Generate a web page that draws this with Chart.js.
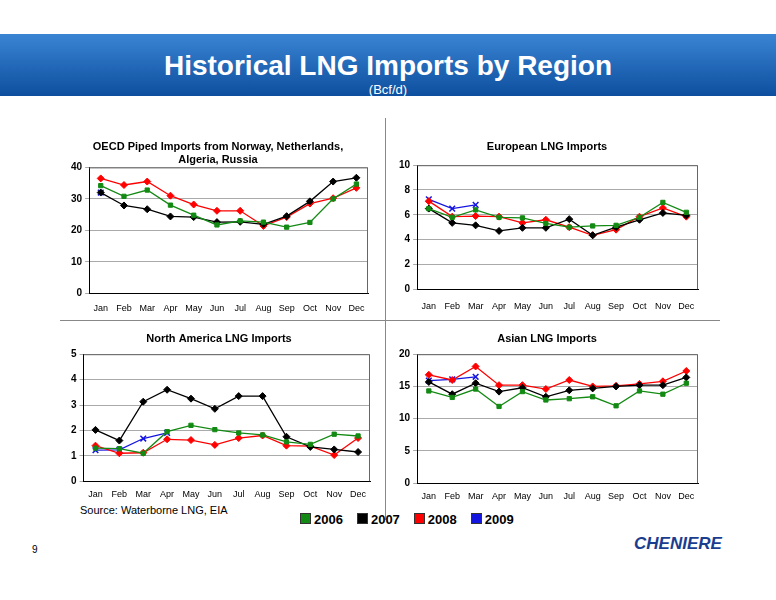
<!DOCTYPE html>
<html><head><meta charset="utf-8">
<script src="https://cdn.jsdelivr.net/npm/chart.js@4"></script>
<style>
body{margin:0;width:776px;height:600px;background:#fff;font-family:"Liberation Sans",Arial,sans-serif;position:relative;overflow:hidden}
.banner{position:absolute;left:0;top:34px;width:776px;height:62px;background:linear-gradient(#3a84d4,#0d4f9e);}
.banner h1{margin:0;position:absolute;top:16px;width:776px;text-align:center;color:#fff;font-size:28px;font-weight:bold}
.banner .sub{position:absolute;top:48px;width:776px;text-align:center;color:#fff;font-size:13px}
canvas{position:absolute}
.vl{position:absolute;left:385px;top:118px;width:1px;height:402px;background:#888}
.hl{position:absolute;left:60px;top:320px;width:660px;height:1px;background:#888}
.src{position:absolute;left:80px;top:504px;font-size:11px}
.leg{position:absolute;left:300px;top:512px;font-size:13px;font-weight:bold;display:flex;gap:14px}
.leg span i{display:inline-block;width:9px;height:9px;margin-right:3px;border:1px solid #333}
.pg{position:absolute;left:32px;top:544px;font-size:10px}
.logo{position:absolute;left:634px;top:534px;font-size:17px;font-weight:bold;font-style:italic;color:#1a3d8f}
</style></head><body>
<div class="banner"><h1>Historical LNG Imports by Region</h1><div class="sub">(Bcf/d)</div></div>
<div class="vl"></div><div class="hl"></div>
<canvas id="c1" width="320" height="184" style="left:62px;top:132px"></canvas>
<canvas id="c2" width="320" height="184" style="left:390px;top:132px"></canvas>
<canvas id="c3" width="320" height="176" style="left:62px;top:324px"></canvas>
<canvas id="c4" width="320" height="178" style="left:390px;top:324px"></canvas>
<div class="src">Source: Waterborne LNG, EIA</div>
<div class="leg"><span><i style="background:#138a13"></i>2006</span><span><i style="background:#000"></i>2007</span><span><i style="background:#f00"></i>2008</span><span><i style="background:#1515e0"></i>2009</span></div>
<div class="pg">9</div>
<div class="logo">CHENIERE</div>
<script>
const months=["Jan","Feb","Mar","Apr","May","Jun","Jul","Aug","Sep","Oct","Nov","Dec"];
const oecd2006=[34.2,30.8,32.8,28,24.8,21.7,23,22.6,21,22.5,30,34.7];
const oecd2007=[32,27.9,26.7,24.4,24.2,22.6,22.7,21.9,24.5,29.2,35.5,36.7];
const oecd2008=[36.5,34.4,35.5,31,28.2,26.2,26.2,21.4,24.2,28.5,30.2,33.5];
const oecd2009=[32];
const eu2006=[6.5,5.8,6.4,5.8,5.75,5.3,5.0,5.1,5.15,5.8,7.0,6.2];
const eu2007=[6.5,5.35,5.15,4.7,4.95,4.95,5.65,4.35,5.0,5.6,6.15,5.95];
const eu2008=[7.1,5.85,5.9,5.85,5.35,5.6,5.0,4.35,4.8,5.85,6.55,5.85];
const eu2009=[7.25,6.5,6.8];
const na2006=[1.3,1.28,1.1,1.95,2.2,2.03,1.9,1.82,1.55,1.45,1.85,1.78];
const na2007=[2.02,1.6,3.13,3.6,3.25,2.85,3.35,3.35,1.75,1.35,1.25,1.15];
const na2008=[1.4,1.1,1.12,1.65,1.62,1.43,1.7,1.8,1.4,1.38,1.03,1.7];
const na2009=[1.22,1.23,1.68,1.9];
const as2006=[14.3,13.3,14.6,11.9,14.2,12.9,13.1,13.4,12.0,14.3,13.8,15.5];
const as2007=[15.7,13.8,15.5,14.2,14.8,13.4,14.4,14.7,15.0,15.2,15.2,16.4];
const as2008=[16.8,16.0,18.1,15.2,15.2,14.6,16.0,15.0,15.1,15.4,15.8,17.4];
const as2009=[15.9,16.1,16.5];
const F="'Liberation Sans',Arial,sans-serif";
function ds(d,c,s,r){return {data:d,borderColor:c,backgroundColor:c,pointStyle:s,pointRadius:r,borderWidth:1.3,pointBorderWidth:s==='crossRot'?1.5:1};}
const frame={id:'frame',afterDraw(ch){const a=ch.chartArea,x=ch.ctx;x.save();x.strokeStyle='#666';x.lineWidth=1;x.beginPath();x.moveTo(a.left,a.top+0.5);x.lineTo(a.right-0.5,a.top+0.5);x.lineTo(a.right-0.5,a.bottom);x.stroke();x.restore();}};
function mk(id,title,sets,max,step,pad,tpb,xp){
 new Chart(document.getElementById(id),{type:'line',plugins:[frame],
 data:{labels:months,datasets:[ds(sets[0],'#138a13','rect',3),ds(sets[1],'#000','rectRot',3.5),ds(sets[2],'#f00','rectRot',3.5),ds(sets[3],'#1515e0','crossRot',4)]},
 options:{responsive:false,animation:false,layout:{padding:pad},
 plugins:{legend:{display:false},tooltip:{enabled:false},title:{display:true,text:title,color:'#000',font:{family:F,size:11,weight:'bold'},padding:{top:0,bottom:tpb}}},
 scales:{x:{offset:true,grid:{display:false,drawTicks:true},border:{color:'#000'},ticks:{color:'#000',font:{family:F,size:9},maxRotation:0,autoSkip:false,padding:xp}},
 y:{min:0,max:max,ticks:{stepSize:step,color:'#000',font:{family:F,size:10,weight:'bold'}},grid:{color:'#aaa',drawTicks:true,tickLength:4},border:{color:'#000'}}}}});
}
mk('c1',['OECD Piped Imports from Norway, Netherlands,','Algeria, Russia'],[oecd2006,oecd2007,oecd2008,oecd2009],40,10,{left:6,right:14,top:8,bottom:0},1,2);
mk('c2','European LNG Imports',[eu2006,eu2007,eu2008,eu2009],10,2,{left:6,right:12,top:8,bottom:0},12,4);
mk('c3','North America LNG Imports',[na2006,na2007,na2008,na2009],5,1,{left:6,right:12,top:8,bottom:0},9,0);
mk('c4','Asian LNG Imports',[as2006,as2007,as2008,as2009],20,5,{left:6,right:12,top:8,bottom:0},9,0);
</script>
</body></html>
